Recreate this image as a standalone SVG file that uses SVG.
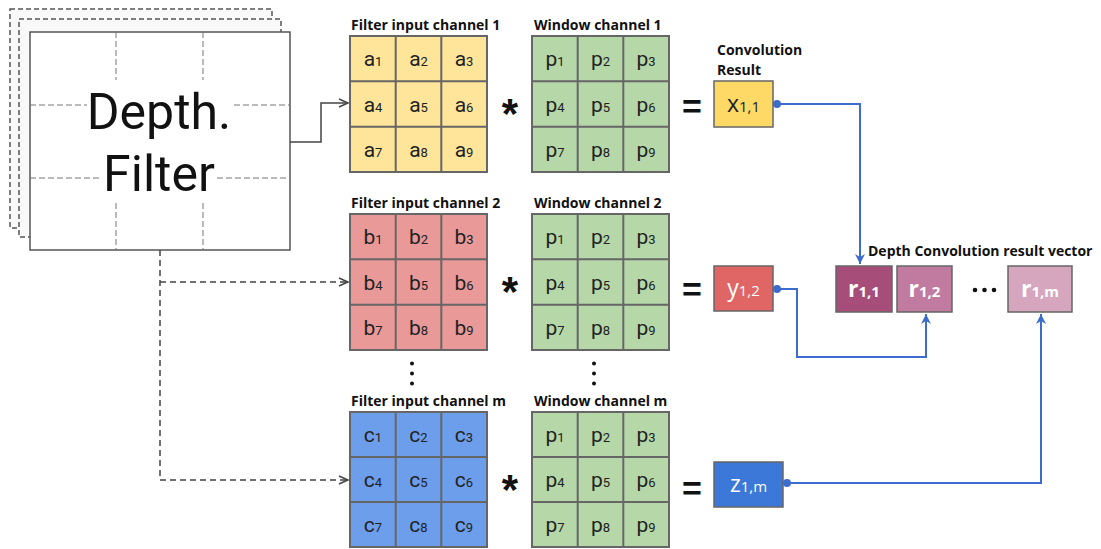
<svg xmlns="http://www.w3.org/2000/svg" width="1101" height="549" viewBox="0 0 1101 549">
  <defs>
    <style>
      .lbl { font-family: "Open Sans", "Liberation Sans", sans-serif; font-weight: 700; font-size: 14px; fill: #111; }
      .cell { font-family: Roboto, "Liberation Sans", sans-serif; font-size: 21px; fill: #222; text-anchor: middle; }
      .sub { font-size: 13px; }
      .grid { stroke: #666; stroke-width: 2; fill: none; }
      .sym { font-family: "Liberation Sans", Arial, sans-serif; font-weight: 700; fill: #111; text-anchor: middle; }
      .res { font-family: "Open Sans", "Liberation Sans", sans-serif; font-size: 23px; text-anchor: middle; }
      .rsub { font-size: 15px; }
      .box { stroke: #666; stroke-width: 1.5; }
      .sheet { fill: #f9f9f9; stroke: #555; stroke-width: 1.5; stroke-dasharray: 5 3; }
      .inner { stroke: #777; stroke-width: 1; stroke-dasharray: 6 3; fill: none; }
      .feed { stroke: #444; stroke-width: 1.5; fill: none; }
      .feed.dash { stroke-dasharray: 6 4; }
      .blue { stroke: #3d6dcc; stroke-width: 2; fill: none; }
    </style>
    <marker id="chev" markerWidth="12" markerHeight="10" refX="10" refY="5" orient="auto" markerUnits="userSpaceOnUse">
      <path d="M1,1 L10,5 L1,9" fill="none" stroke="#444" stroke-width="1.5"/>
    </marker>
    <marker id="tri" markerWidth="12" markerHeight="12" refX="10" refY="5" orient="auto" markerUnits="userSpaceOnUse">
      <path d="M0,0 L10,5 L0,10 L3,5 Z" fill="#3d6dcc"/>
    </marker>
  </defs>

  <!-- depthwise filter stack -->
  <g id="depth-filter">
    <rect class="sheet" x="10" y="9" width="262" height="219"/>
    <rect class="sheet" x="19" y="19" width="262" height="218"/>
    <rect x="30" y="32" width="260" height="218" fill="#fff" stroke="#555" stroke-width="1.5"/>
    <path class="inner" d="M116,32 V80 M116,203 V250 M203,32 V80 M203,203 V250 M30,105 H87 M234,105 H290 M30,178 H100 M217,178 H290"/>
    <text x="159" y="129" font-family="Roboto, 'Liberation Sans', sans-serif" font-size="50" text-anchor="middle" fill="#111">Depth.</text>
    <text x="159" y="191" font-family="Roboto, 'Liberation Sans', sans-serif" font-size="50" text-anchor="middle" fill="#111">Filter</text>
  </g>

  <!-- filter channel 1 -->
  <g id="filter-ch1">
    <text class="lbl" x="351" y="30">Filter input channel 1</text>
    <rect x="350" y="36" width="137" height="136" fill="#ffe599"/>
    <path class="grid" d="M350,36 H487 V172 H350 Z M395.7,36 V172 M441.3,36 V172 M350,81.3 H487 M350,126.7 H487"/>
    <text class="cell" x="373" y="66">a<tspan class="sub">1</tspan></text>
    <text class="cell" x="418.5" y="66">a<tspan class="sub">2</tspan></text>
    <text class="cell" x="464" y="66">a<tspan class="sub">3</tspan></text>
    <text class="cell" x="373" y="111.5">a<tspan class="sub">4</tspan></text>
    <text class="cell" x="418.5" y="111.5">a<tspan class="sub">5</tspan></text>
    <text class="cell" x="464" y="111.5">a<tspan class="sub">6</tspan></text>
    <text class="cell" x="373" y="157">a<tspan class="sub">7</tspan></text>
    <text class="cell" x="418.5" y="157">a<tspan class="sub">8</tspan></text>
    <text class="cell" x="464" y="157">a<tspan class="sub">9</tspan></text>
  </g>

  <!-- window channel 1 -->
  <g id="window-ch1">
    <text class="lbl" x="534" y="30">Window channel 1</text>
    <rect x="532" y="36" width="137" height="136" fill="#b6d7a8"/>
    <path class="grid" d="M532,36 H669 V172 H532 Z M577.7,36 V172 M623.3,36 V172 M532,81.3 H669 M532,126.7 H669"/>
    <text class="cell" x="555" y="66">p<tspan class="sub">1</tspan></text>
    <text class="cell" x="600.5" y="66">p<tspan class="sub">2</tspan></text>
    <text class="cell" x="646" y="66">p<tspan class="sub">3</tspan></text>
    <text class="cell" x="555" y="111.5">p<tspan class="sub">4</tspan></text>
    <text class="cell" x="600.5" y="111.5">p<tspan class="sub">5</tspan></text>
    <text class="cell" x="646" y="111.5">p<tspan class="sub">6</tspan></text>
    <text class="cell" x="555" y="157">p<tspan class="sub">7</tspan></text>
    <text class="cell" x="600.5" y="157">p<tspan class="sub">8</tspan></text>
    <text class="cell" x="646" y="157">p<tspan class="sub">9</tspan></text>
  </g>

  <!-- filter channel 2 -->
  <g id="filter-ch2">
    <text class="lbl" x="351" y="208">Filter input channel 2</text>
    <rect x="350" y="214" width="137" height="136" fill="#ea9999"/>
    <path class="grid" d="M350,214 H487 V350 H350 Z M395.7,214 V350 M441.3,214 V350 M350,259.3 H487 M350,304.7 H487"/>
    <text class="cell" x="373" y="244">b<tspan class="sub">1</tspan></text>
    <text class="cell" x="418.5" y="244">b<tspan class="sub">2</tspan></text>
    <text class="cell" x="464" y="244">b<tspan class="sub">3</tspan></text>
    <text class="cell" x="373" y="289.5">b<tspan class="sub">4</tspan></text>
    <text class="cell" x="418.5" y="289.5">b<tspan class="sub">5</tspan></text>
    <text class="cell" x="464" y="289.5">b<tspan class="sub">6</tspan></text>
    <text class="cell" x="373" y="335">b<tspan class="sub">7</tspan></text>
    <text class="cell" x="418.5" y="335">b<tspan class="sub">8</tspan></text>
    <text class="cell" x="464" y="335">b<tspan class="sub">9</tspan></text>
  </g>

  <!-- window channel 2 -->
  <g id="window-ch2">
    <text class="lbl" x="534" y="208">Window channel 2</text>
    <rect x="532" y="214" width="137" height="136" fill="#b6d7a8"/>
    <path class="grid" d="M532,214 H669 V350 H532 Z M577.7,214 V350 M623.3,214 V350 M532,259.3 H669 M532,304.7 H669"/>
    <text class="cell" x="555" y="244">p<tspan class="sub">1</tspan></text>
    <text class="cell" x="600.5" y="244">p<tspan class="sub">2</tspan></text>
    <text class="cell" x="646" y="244">p<tspan class="sub">3</tspan></text>
    <text class="cell" x="555" y="289.5">p<tspan class="sub">4</tspan></text>
    <text class="cell" x="600.5" y="289.5">p<tspan class="sub">5</tspan></text>
    <text class="cell" x="646" y="289.5">p<tspan class="sub">6</tspan></text>
    <text class="cell" x="555" y="335">p<tspan class="sub">7</tspan></text>
    <text class="cell" x="600.5" y="335">p<tspan class="sub">8</tspan></text>
    <text class="cell" x="646" y="335">p<tspan class="sub">9</tspan></text>
  </g>

  <!-- vertical ellipses between channel 2 and channel m -->
  <g id="vdots" fill="#111">
    <circle cx="412" cy="363.5" r="2"/>
    <circle cx="412" cy="373.5" r="2"/>
    <circle cx="412" cy="383.5" r="2"/>
    <circle cx="594" cy="363.5" r="2"/>
    <circle cx="594" cy="373.5" r="2"/>
    <circle cx="594" cy="383.5" r="2"/>
  </g>

  <!-- filter channel m -->
  <g id="filter-chm">
    <text class="lbl" x="351" y="406">Filter input channel m</text>
    <rect x="350" y="412" width="137" height="135" fill="#6d9eeb"/>
    <path class="grid" d="M350,412 H487 V547 H350 Z M395.7,412 V547 M441.3,412 V547 M350,457 H487 M350,502 H487"/>
    <text class="cell" x="373" y="442">c<tspan class="sub">1</tspan></text>
    <text class="cell" x="418.5" y="442">c<tspan class="sub">2</tspan></text>
    <text class="cell" x="464" y="442">c<tspan class="sub">3</tspan></text>
    <text class="cell" x="373" y="487">c<tspan class="sub">4</tspan></text>
    <text class="cell" x="418.5" y="487">c<tspan class="sub">5</tspan></text>
    <text class="cell" x="464" y="487">c<tspan class="sub">6</tspan></text>
    <text class="cell" x="373" y="532">c<tspan class="sub">7</tspan></text>
    <text class="cell" x="418.5" y="532">c<tspan class="sub">8</tspan></text>
    <text class="cell" x="464" y="532">c<tspan class="sub">9</tspan></text>
  </g>

  <!-- window channel m -->
  <g id="window-chm">
    <text class="lbl" x="534" y="406">Window channel m</text>
    <rect x="532" y="412" width="137" height="135" fill="#b6d7a8"/>
    <path class="grid" d="M532,412 H669 V547 H532 Z M577.7,412 V547 M623.3,412 V547 M532,457 H669 M532,502 H669"/>
    <text class="cell" x="555" y="442">p<tspan class="sub">1</tspan></text>
    <text class="cell" x="600.5" y="442">p<tspan class="sub">2</tspan></text>
    <text class="cell" x="646" y="442">p<tspan class="sub">3</tspan></text>
    <text class="cell" x="555" y="487">p<tspan class="sub">4</tspan></text>
    <text class="cell" x="600.5" y="487">p<tspan class="sub">5</tspan></text>
    <text class="cell" x="646" y="487">p<tspan class="sub">6</tspan></text>
    <text class="cell" x="555" y="532">p<tspan class="sub">7</tspan></text>
    <text class="cell" x="600.5" y="532">p<tspan class="sub">8</tspan></text>
    <text class="cell" x="646" y="532">p<tspan class="sub">9</tspan></text>
  </g>

  <!-- operators -->
  <g id="operators">
    <text class="sym" x="510" y="128" font-size="42">*</text>
    <text class="sym" x="510" y="306" font-size="42">*</text>
    <text class="sym" x="510" y="504" font-size="42">*</text>
    <text class="sym" x="692" y="118" font-size="34">=</text>
    <text class="sym" x="692" y="301" font-size="34">=</text>
    <text class="sym" x="692" y="500" font-size="34">=</text>
  </g>

  <!-- per-channel convolution results -->
  <g id="result-x">
    <text class="lbl" x="717" y="55">Convolution</text>
    <text class="lbl" x="717" y="75">Result</text>
    <rect class="box" x="714" y="81" width="59" height="46" fill="#ffd966"/>
    <text class="res" x="743.5" y="112" fill="#222">x<tspan class="rsub">1,1</tspan></text>
  </g>
  <g id="result-y">
    <rect class="box" x="714" y="266" width="59" height="45" fill="#e06666"/>
    <text class="res" x="743.5" y="296" fill="#fff">y<tspan class="rsub">1,2</tspan></text>
  </g>
  <g id="result-z">
    <rect class="box" x="714" y="462" width="69" height="45" fill="#3c78d8"/>
    <text class="res" x="748.5" y="492" fill="#fff">z<tspan class="rsub">1,m</tspan></text>
  </g>

  <!-- depth convolution result vector -->
  <g id="result-vector">
    <text class="lbl" x="868" y="256">Depth Convolution result vector</text>
  </g>
  <g id="r11">
    <rect class="box" x="836" y="266" width="56" height="46" fill="#a64d79"/>
    <text class="res" x="864" y="297" fill="#fff" font-weight="700">r<tspan class="rsub">1,1</tspan></text>
  </g>
  <g id="r12">
    <rect class="box" x="897" y="266" width="55" height="46" fill="#c27ba0"/>
    <text class="res" x="924.5" y="297" fill="#fff" font-weight="700">r<tspan class="rsub">1,2</tspan></text>
  </g>
  <g id="hdots" fill="#111">
    <circle cx="975" cy="290" r="2.3"/>
    <circle cx="984.5" cy="290" r="2.3"/>
    <circle cx="994" cy="290" r="2.3"/>
  </g>
  <g id="r1m">
    <rect class="box" x="1008" y="266" width="64" height="46" fill="#d5a6bd"/>
    <text class="res" x="1040" y="297" fill="#fff" font-weight="700">r<tspan class="rsub">1,m</tspan></text>
  </g>

  <!-- connectors -->
  <g id="connectors">
    <path class="feed" d="M290,142 H321 V103 H348" marker-end="url(#chev)"/>
    <path class="feed dash" d="M160,250 V480 H348" marker-end="url(#chev)"/>
    <path class="feed dash" d="M160,282 H348" marker-end="url(#chev)"/>
    <path class="blue" d="M777,104 H860 V264" marker-end="url(#tri)"/>
    <path class="blue" d="M777,289 H797 V357 H926 V314" marker-end="url(#tri)"/>
    <path class="blue" d="M787,483 H1041 V314" marker-end="url(#tri)"/>
    <g fill="#3d6dcc">
      <circle cx="777" cy="104" r="4"/>
      <circle cx="777" cy="289" r="4"/>
      <circle cx="787" cy="483" r="4"/>
    </g>
  </g>
</svg>
